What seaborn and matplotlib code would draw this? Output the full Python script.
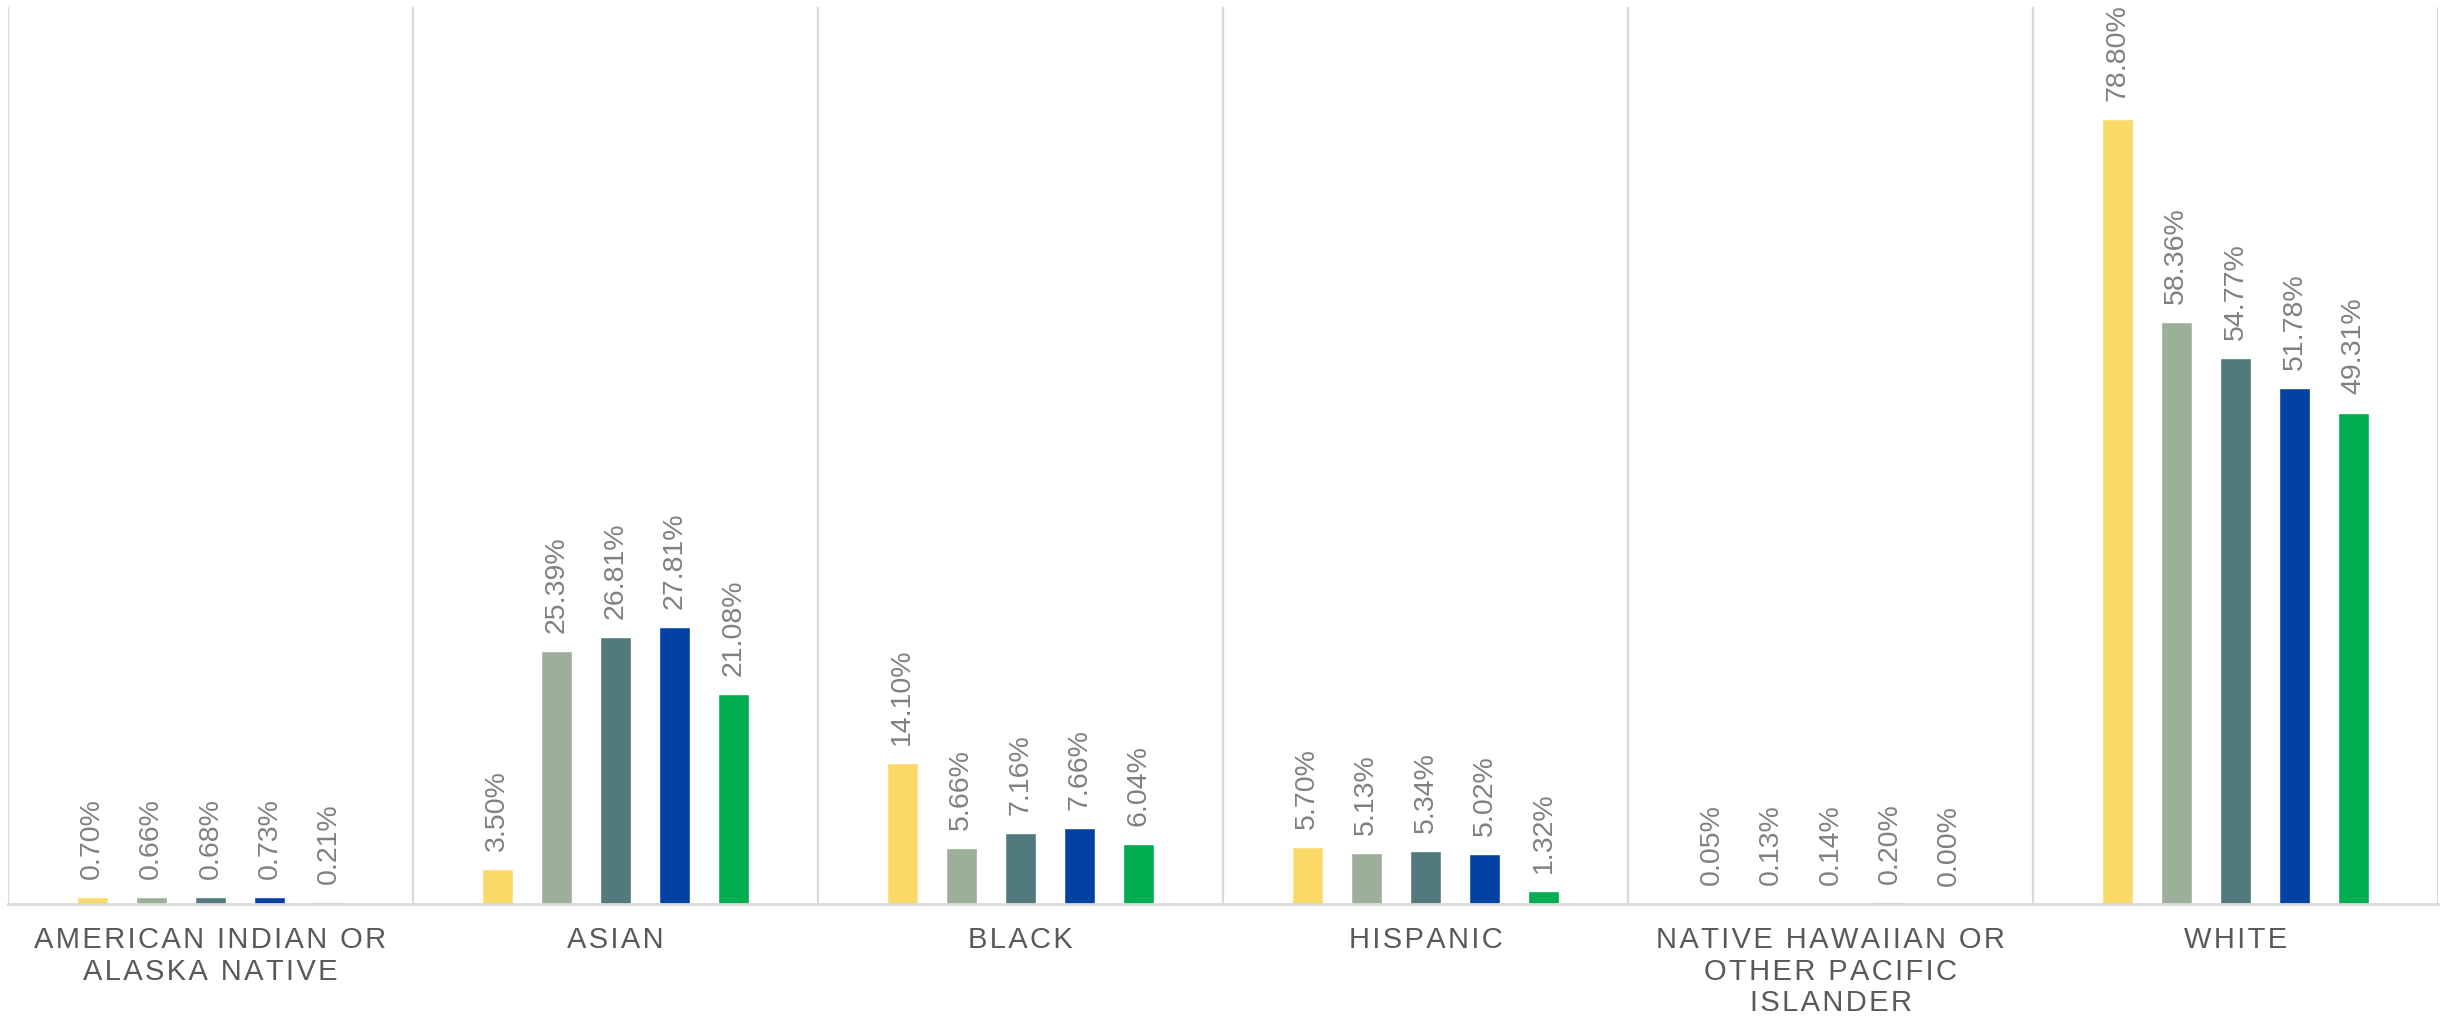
import matplotlib
matplotlib.use("Agg")
import matplotlib.pyplot as plt
import seaborn as sns
import pandas as pd

# Categories and the five series shown for each
categories = [
    "AMERICAN INDIAN OR\nALASKA NATIVE",
    "ASIAN",
    "BLACK",
    "HISPANIC",
    "NATIVE HAWAIIAN OR\nOTHER PACIFIC\nISLANDER",
    "WHITE",
]
series_names = ["Series 1", "Series 2", "Series 3", "Series 4", "Series 5"]
series_1 = [0.70, 3.50, 14.10, 5.70, 0.05, 78.80]
series_2 = [0.66, 25.39, 5.66, 5.13, 0.13, 58.36]
series_3 = [0.68, 26.81, 7.16, 5.34, 0.14, 54.77]
series_4 = [0.73, 27.81, 7.66, 5.02, 0.20, 51.78]
series_5 = [0.21, 21.08, 6.04, 1.32, 0.00, 49.31]

colors = ["#FBD968", "#9CAF98", "#52797E", "#0342A5", "#00AE4F"]

all_series = [series_1, series_2, series_3, series_4, series_5]
rows = []
for name, vals in zip(series_names, all_series):
    for cat, v in zip(categories, vals):
        rows.append({"category": cat, "series": name, "value": v})
df = pd.DataFrame(rows)

sns.set_theme(style="white")
plt.rcParams["font.family"] = ["Liberation Sans", "DejaVu Sans"]

fig = plt.figure(figsize=(24.47, 10.16), dpi=100)
ax = fig.add_axes([8 / 2447, 112 / 1016, 2430 / 2447, 897 / 1016])

sns.barplot(
    data=df, x="category", y="value", hue="series",
    order=categories, hue_order=series_names, palette=colors,
    width=0.73, gap=0.475, errorbar=None, legend=False,
    saturation=1, ax=ax,
)

for cont, vals in zip(ax.containers, all_series):
    ax.bar_label(cont, labels=[f"{v:.2f}%" for v in vals], rotation=90,
                 padding=13, fontsize=20.5, color="#808080")

ax.set_ylim(0, 90)
ax.set_xlim(-0.5, len(categories) - 0.5)
ax.set_yticks([])
ax.set_xlabel("")
ax.set_ylabel("")

grid_color = "#D9D9D9"
for b in [i - 0.5 for i in range(len(categories) + 1)]:
    ax.axvline(b, color=grid_color, lw=1.6, zorder=0)

for side in ["top", "left", "right"]:
    ax.spines[side].set_visible(False)
ax.spines["bottom"].set_color(grid_color)
ax.spines["bottom"].set_linewidth(2)


def tracked(text):
    # widen the letter spacing of each line with hair spaces
    return "\n".join("\u200a".join(line) for line in text.split("\n"))


ax.set_xticks(range(len(categories)))
ax.set_xticklabels([tracked(c) for c in categories])
ax.tick_params(axis="x", length=0, pad=16)
for lbl in ax.get_xticklabels():
    lbl.set_fontsize(21)
    lbl.set_color("#595959")
    lbl.set_multialignment("center")
    lbl.set_linespacing(1.15)

fig.savefig("out.png", dpi=100, facecolor="white")
